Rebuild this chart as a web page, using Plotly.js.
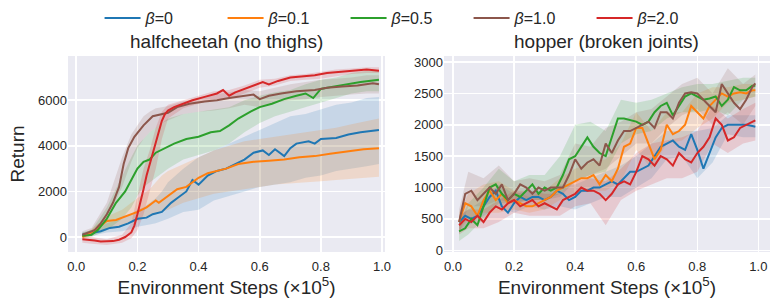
<!DOCTYPE html>
<html>
<head>
<meta charset="utf-8">
<script src="https://cdn.plot.ly/plotly-3.0.1.min.js"></script>
<style>html,body{margin:0;padding:0;background:#fff;}#chart{width:780px;height:306px;}</style>
</head>
<body>
<div id="chart"></div>
<script>
// ---------------- data ----------------
var seriesNames = ["<i>β</i>=0", "<i>β</i>=0.1", "<i>β</i>=0.5", "<i>β</i>=1.0", "<i>β</i>=2.0"];
var seriesColors = ["#1f77b4", "#ff7f0e", "#2ca02c", "#8c564b", "#d62728"];
var panelTitles = ["halfcheetah (no thighs)", "hopper (broken joints)"];
var xTickVals = [0, 0.2, 0.4, 0.6, 0.8, 1.0];
var xTickText = ["0.0", "0.2", "0.4", "0.6", "0.8", "1.0"];
var hcTickVals = [0, 2000, 4000, 6000];
var hpTickVals = [0, 500, 1000, 1500, 2000, 2500, 3000];

// halfcheetah (no thighs) mean curves
var hcX0 = [0.02,0.06,0.08,0.11,0.14,0.17,0.20,0.23,0.25,0.28,0.31,0.33,0.36,0.38,0.40,0.43,0.46,0.49,0.52,0.55,0.58,0.61,0.63,0.65,0.68,0.70,0.72,0.76,0.78,0.80,0.85,0.89,0.93,0.99];
var hcY0 = [100,200,250,400,450,600,800,850,1000,1100,1500,1700,2000,2500,2300,2700,2900,3000,3200,3400,3700,3800,3600,3850,3550,3900,4100,4200,4100,4300,4350,4500,4600,4700];
var hcX1 = [0.02,0.05,0.08,0.10,0.13,0.16,0.20,0.23,0.26,0.27,0.30,0.33,0.36,0.40,0.43,0.46,0.49,0.53,0.58,0.63,0.68,0.73,0.78,0.83,0.88,0.94,0.99];
var hcY1 = [0,200,500,700,750,900,1100,1300,1600,1500,1800,2100,2200,2600,2800,2900,3000,3200,3300,3350,3400,3500,3550,3650,3750,3850,3900];
var hcX2 = [0.02,0.05,0.07,0.10,0.13,0.16,0.18,0.20,0.22,0.24,0.26,0.29,0.32,0.36,0.40,0.44,0.47,0.50,0.53,0.57,0.60,0.64,0.68,0.72,0.75,0.775,0.80,0.84,0.88,0.93,0.99];
var hcY2 = [50,100,300,800,1500,2000,2500,3000,3300,3400,3700,3900,4100,4300,4400,4600,4650,4900,5200,5500,5700,5850,6050,6200,6300,6100,6500,6600,6700,6800,6900];
var hcX3 = [0.02,0.04,0.06,0.08,0.10,0.12,0.14,0.155,0.17,0.19,0.22,0.25,0.28,0.30,0.33,0.37,0.42,0.46,0.50,0.55,0.58,0.60,0.63,0.67,0.72,0.78,0.82,0.87,0.92,0.97,0.99];
var hcY3 = [100,200,300,600,1000,1500,2200,3200,3900,4400,4900,5300,5400,5450,5700,5850,5950,6000,6100,6200,6250,6050,6200,6300,6400,6450,6550,6600,6650,6750,6700];
var hcX4 = [0.02,0.04,0.06,0.08,0.10,0.12,0.14,0.16,0.18,0.19,0.20,0.21,0.22,0.23,0.24,0.25,0.26,0.27,0.28,0.29,0.30,0.32,0.35,0.38,0.42,0.46,0.48,0.50,0.52,0.55,0.58,0.61,0.63,0.66,0.70,0.75,0.78,0.82,0.86,0.90,0.95,0.99];
var hcY4 = [-100,-120,-150,-200,-200,-180,-120,0,200,500,1000,1500,2100,2700,3200,3700,4100,4600,5100,5400,5550,5700,5850,6000,6150,6300,6450,6200,6350,6500,6650,6800,6700,6850,7000,7050,7100,7200,7250,7300,7350,7300];

// halfcheetah shaded bands
var hcBandX = [0.02,0.05,0.10,0.15,0.18,0.20,0.22,0.24,0.26,0.28,0.30,0.35,0.40,0.45,0.50,0.55,0.60,0.65,0.70,0.75,0.80,0.85,0.90,0.95,0.99];
var hcLo0 = [0,50,200,250,350,450,500,550,600,700,800,1100,1200,1600,1800,2000,2200,2300,2400,2600,2700,2900,3000,3100,3200];
var hcHi0 = [200,300,600,800,1000,1200,1300,1500,1700,2000,2400,3000,3500,3800,4100,4400,4700,5000,5300,5400,5600,5800,5900,6100,6150];
var hcLo1 = [-100,50,400,500,600,700,800,900,1000,1100,1200,1500,1700,1900,2000,2100,2200,2300,2350,2400,2450,2500,2550,2600,2650];
var hcHi1 = [100,350,900,1200,1500,1700,1900,2100,2400,2700,2900,3200,3500,3800,4000,4200,4300,4400,4500,4600,4700,4800,4950,5100,5200];
var hcLo2 = [-50,0,300,800,1300,1800,2200,2400,2600,2800,3000,3400,3600,3800,4100,4600,5000,5300,5500,5700,5900,6100,6300,6400,6400];
var hcHi2 = [200,300,1300,2700,3500,4000,4300,4600,4800,5000,5200,5400,5500,5600,5700,6000,6200,6350,6450,6700,6900,7000,7200,7300,7300];
var hcLo3 = [0,50,700,2200,3300,3900,4300,4600,4800,5000,5100,5400,5500,5550,5650,5800,5700,5900,6000,6050,6150,6200,6250,6300,6300];
var hcHi3 = [250,400,1500,3500,4500,4900,5300,5500,5650,5700,5750,5950,6100,6250,6350,6450,6400,6550,6700,6800,6900,6950,7000,7100,7100];
var hcLo4 = [-250,-300,-350,-250,-50,300,1000,2000,3000,4300,5200,5650,5850,6050,6050,6300,6550,6650,6850,6900,6950,7050,7150,7200,7200];
var hcHi4 = [50,0,-100,100,600,1800,3000,3800,4800,5500,5800,6000,6200,6400,6450,6650,6900,6950,7100,7150,7250,7350,7400,7450,7450];

// hopper (broken joints) mean curves
var hpX = [0.02,0.04,0.06,0.08,0.10,0.12,0.14,0.16,0.18,0.20,0.22,0.24,0.26,0.28,0.30,0.32,0.34,0.36,0.38,0.40,0.42,0.44,0.46,0.48,0.50,0.52,0.54,0.56,0.58,0.60,0.62,0.64,0.66,0.68,0.70,0.72,0.74,0.76,0.78,0.80,0.82,0.84,0.86,0.88,0.90,0.92,0.94,0.96,0.98,0.99];
var hpY0 = [450,550,500,550,700,850,950,700,600,750,850,800,850,850,800,850,950,900,800,850,950,950,1000,1000,1050,1100,1050,1150,1250,1250,1300,1350,1500,1650,1700,1750,1650,1600,1850,1600,1300,1550,1800,1950,2000,2000,2000,2000,1980,1970];
var hpY1 = [450,750,700,550,800,950,800,900,750,800,750,700,700,750,800,850,950,1000,1050,1100,1150,1150,1200,1050,1200,1100,1300,1650,1700,1950,1950,1700,1450,1600,2000,1850,1900,2000,2300,2200,2100,2300,2400,2500,2450,2500,2520,2500,2550,2550];
var hpY2 = [300,350,500,400,700,1000,1050,900,800,900,850,950,1050,900,1000,950,1000,1200,1450,1500,1650,1800,1650,1550,1500,1800,2100,2100,2080,2050,2000,2050,2200,2300,2350,2150,2300,2450,2500,2450,2400,2420,2450,2300,2400,2600,2550,2550,2620,2620];
var hpY3 = [450,900,950,800,900,1000,900,1050,800,900,1050,1000,900,1000,950,1000,1000,1000,1200,1450,1300,1400,1450,1350,1700,1550,1750,1900,1900,1950,2000,2050,1950,2200,2200,2100,2350,2500,2520,2500,2400,2300,2200,2650,2500,2350,2250,2400,2600,2660];
var hpY4 = [400,500,450,550,450,600,700,650,750,800,700,750,800,700,750,700,650,800,850,900,1000,950,950,900,800,900,1050,1100,1050,1250,1500,1450,1350,1500,1450,1350,1550,1450,1400,1550,1650,1800,2100,2000,1750,1800,1950,2000,2050,2070];

// hopper shaded bands
var hpBandX = [0.02,0.05,0.10,0.15,0.20,0.25,0.30,0.35,0.40,0.45,0.50,0.55,0.60,0.65,0.70,0.75,0.80,0.85,0.90,0.95,0.99];
var hpLo0 = [300,400,550,700,600,700,650,700,650,750,850,850,1000,1150,1450,1500,1150,1400,1850,1800,1800];
var hpHi0 = [550,650,800,1050,900,950,950,1050,1050,1150,1250,1350,1500,1700,1900,1900,1900,1950,2150,2150,2150];
var hpLo1 = [300,500,600,600,650,600,650,800,900,950,950,1100,1600,1300,1700,1750,1950,2100,2350,2400,2450];
var hpHi1 = [600,900,1050,1100,950,850,950,1150,1300,1400,1450,1700,2200,1900,2200,2200,2500,2600,2600,2650,2650];
var hpLo2 = [150,250,500,750,750,800,800,900,1100,1200,1250,1700,1850,1900,2100,2200,2200,2250,2150,2400,2450];
var hpHi2 = [450,750,1000,1300,1100,1200,1200,1500,2000,2050,1900,2400,2350,2400,2500,2600,2650,2650,2700,2750,2750];
var hpLo3 = [250,700,700,800,750,800,800,850,1100,1200,1300,1500,1700,1700,1950,2150,2250,2000,2200,2000,2300];
var hpHi3 = [650,1250,1150,1350,1100,1150,1100,1200,1700,1650,1950,2050,2200,2250,2450,2650,2750,2500,2900,2650,2800];
var hpLo4 = [250,350,350,450,600,550,550,550,700,750,400,800,950,1050,1150,1150,1250,1700,1550,1700,1750];
var hpHi4 = [550,650,650,800,950,950,900,900,1100,1150,1100,1300,1550,1700,1750,1800,1900,2300,2100,2250,2350];

// ---------------- build ----------------
var FONT = "Liberation Sans, Arial, sans-serif";
var TXT = "#262626";
function rgba(hex, a) {
  var r = parseInt(hex.slice(1,3),16), g = parseInt(hex.slice(3,5),16), b = parseInt(hex.slice(5,7),16);
  return "rgba(" + r + "," + g + "," + b + "," + a + ")";
}
function band(bx, lo, hi, color, xa, ya) {
  return {x: bx.concat(bx.slice().reverse()), y: hi.concat(lo.slice().reverse()),
    type: "scatter", mode: "lines", fill: "toself", fillcolor: rgba(color, 0.17),
    line: {width: 0, color: rgba(color, 0)}, hoverinfo: "skip", showlegend: false, xaxis: xa, yaxis: ya};
}
function line(x, y, i, xa, ya, leg) {
  return {x: x, y: y, type: "scatter", mode: "lines", name: seriesNames[i], legendgroup: "g" + i,
    showlegend: leg, line: {color: seriesColors[i], width: 2}, xaxis: xa, yaxis: ya};
}
var hcX = [hcX0, hcX1, hcX2, hcX3, hcX4];
var hcY = [hcY0, hcY1, hcY2, hcY3, hcY4];
var hcLo = [hcLo0, hcLo1, hcLo2, hcLo3, hcLo4];
var hcHi = [hcHi0, hcHi1, hcHi2, hcHi3, hcHi4];
var hpY = [hpY0, hpY1, hpY2, hpY3, hpY4];
var hpLo = [hpLo0, hpLo1, hpLo2, hpLo3, hpLo4];
var hpHi = [hpHi0, hpHi1, hpHi2, hpHi3, hpHi4];

var traces = [];
for (var i = 0; i < 5; i++) traces.push(band(hcBandX, hcLo[i], hcHi[i], seriesColors[i], "x", "y"));
for (var i = 0; i < 5; i++) traces.push(band(hpBandX, hpLo[i], hpHi[i], seriesColors[i], "x2", "y2"));
for (var i = 0; i < 5; i++) traces.push(line(hcX[i], hcY[i], i, "x", "y", true));
for (var i = 0; i < 5; i++) traces.push(line(hpX, hpY[i], i, "x2", "y2", false));

var axBase = {showgrid: true, gridcolor: "#ffffff", gridwidth: 1.6, zeroline: false, showline: false,
  ticks: "", tickfont: {family: FONT, size: 13, color: TXT}};
var xTitle = {text: "Environment Steps (×10<sup>5</sup>)", font: {family: FONT, size: 19, color: TXT}, standoff: 6};

var layout = {
  width: 780, height: 306,
  margin: {l: 68, r: 10, t: 56, b: 54, pad: 0, autoexpand: false},
  paper_bgcolor: "#ffffff", plot_bgcolor: "#EAEAF2",
  font: {family: FONT, color: TXT},
  showlegend: true,
  legend: {orientation: "h", x: 0.483, xanchor: "center", y: 1.194, yanchor: "middle",
    itemwidth: 36, entrywidth: 72, entrywidthmode: "pixels",
    font: {family: FONT, size: 16, color: TXT}, bgcolor: "rgba(0,0,0,0)", traceorder: "normal"},
  xaxis: Object.assign({}, axBase, {domain: [0, 0.4516], range: [-0.027, 1.0098], tickvals: xTickVals, ticktext: xTickText, ticklabelstandoff: 5, title: xTitle, anchor: "y"}),
  yaxis: Object.assign({}, axBase, {domain: [0, 1], range: [-658, 7944], tickvals: hcTickVals, title: {text: "Return", font: {family: FONT, size: 19, color: TXT}, standoff: 8}, anchor: "x"}),
  xaxis2: Object.assign({}, axBase, {domain: [0.5356, 1], range: [-0.0295, 1.038], tickvals: xTickVals, ticktext: xTickText, ticklabelstandoff: 5, title: xTitle, anchor: "y2"}),
  yaxis2: Object.assign({}, axBase, {domain: [0, 1], range: [-27, 3096], tickvals: hpTickVals, anchor: "x2"}),
  annotations: [
    {text: panelTitles[0], xref: "paper", yref: "paper", x: 0.2258, y: 1.0765, xanchor: "center", yanchor: "middle", showarrow: false, font: {family: FONT, size: 19, color: TXT}},
    {text: panelTitles[1], xref: "paper", yref: "paper", x: 0.7678, y: 1.0765, xanchor: "center", yanchor: "middle", showarrow: false, font: {family: FONT, size: 19, color: TXT}}
  ]
};
Plotly.newPlot("chart", traces, layout, {displayModeBar: false, staticPlot: true});
</script>
</body>
</html>
